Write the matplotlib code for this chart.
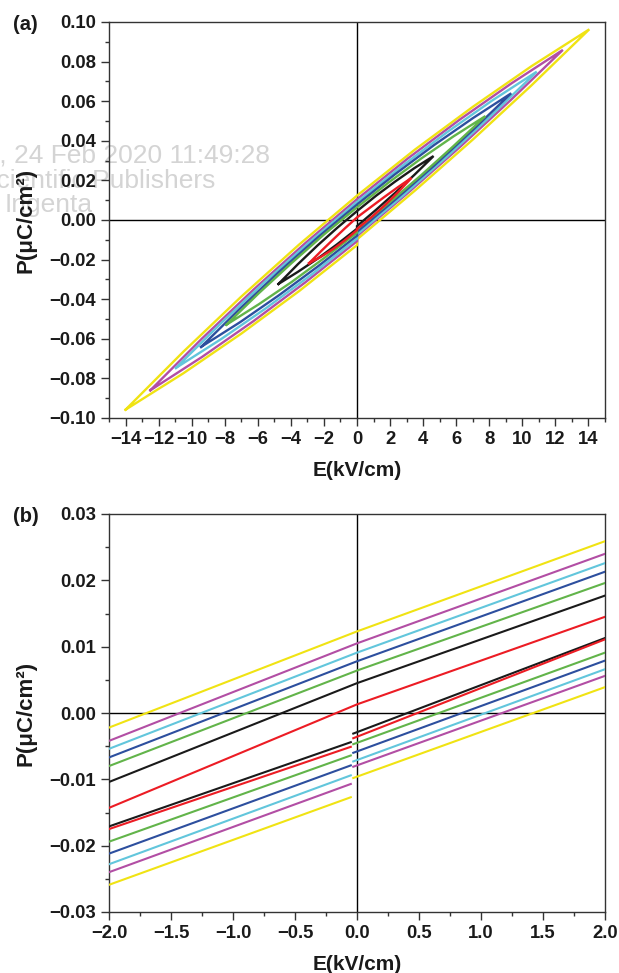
import matplotlib
matplotlib.use("Agg")
import numpy as np
import matplotlib.pyplot as plt
from matplotlib.ticker import MultipleLocator, FuncFormatter

plt.rcParams['font.family'] = ['Liberation Sans', 'DejaVu Sans']
plt.rcParams['font.weight'] = 'bold'

# loop colours, drawn outer first
names = ["red", "black", "green", "blue", "cyan", "magenta", "yellow"]
colors = ["#ec1c24", "#1a1a1a", "#62b44a", "#2d4f9e", "#62c6dc", "#b24ea4", "#f0e313"]

# ---- panel (a): full loops, E grid runs left tip -> 0 -> right tip
a_E = [
    [-2.9, -2.18, -1.45, -0.73, 0, 0.83, 1.65, 2.48, 3.3],
    [-4.75, -3.56, -2.38, -1.19, 0, 1.16, 2.32, 3.47, 4.63],
    [-7.9, -5.93, -3.95, -1.98, 0, 1.94, 3.89, 5.83, 7.77],
    [-9.43, -7.07, -4.72, -2.36, 0, 2.33, 4.67, 7.0, 9.33],
    [-10.95, -8.21, -5.48, -2.74, 0, 2.72, 5.44, 8.15, 10.87],
    [-12.5, -9.38, -6.25, -3.13, 0, 3.11, 6.23, 9.34, 12.45],
    [-14.0, -10.5, -7.0, -3.5, 0, 3.51, 7.03, 10.54, 14.05],
]
# upper branch
a_up = [
    [-0.0218, -0.0158, -0.0099, -0.0042, 0.0013, 0.0065, 0.0116, 0.0166, 0.0213],
    [-0.0323, -0.0222, -0.0128, -0.0039, 0.0045, 0.0123, 0.0195, 0.0262, 0.0323],
    [-0.0529, -0.0369, -0.0217, -0.0072, 0.0064, 0.0191, 0.0311, 0.0422, 0.0525],
    [-0.0641, -0.0447, -0.0262, -0.0087, 0.0078, 0.0233, 0.0379, 0.0514, 0.064],
    [-0.0747, -0.0520, -0.0305, -0.0102, 0.0091, 0.0272, 0.0443, 0.0602, 0.0749],
    [-0.086, -0.0599, -0.0351, -0.0117, 0.0105, 0.0313, 0.0508, 0.0690, 0.0859],
    [-0.0958, -0.0665, -0.0387, -0.0124, 0.0123, 0.0356, 0.0573, 0.0776, 0.0963],
]
# lower branch, left half (left tip -> 0)
a_lo_left = [
    [-0.0218, -0.0186, -0.0147, -0.0102, -0.0051],
    [-0.0323, -0.0261, -0.0195, -0.0122, -0.0044],
    [-0.0529, -0.0425, -0.0313, -0.0192, -0.0064],
    [-0.0641, -0.0516, -0.0380, -0.0234, -0.0079],
    [-0.0747, -0.0601, -0.0444, -0.0275, -0.0094],
    [-0.086, -0.0692, -0.0510, -0.0315, -0.0107],
    [-0.0958, -0.0774, -0.0574, -0.0359, -0.0127],
]
# lower branch, right half (0 -> right tip)
a_lo_right = [
    [-0.0045, 0.0011, 0.0072, 0.0140, 0.0213],
    [-0.0031, 0.0052, 0.0138, 0.0228, 0.0323],
    [-0.0047, 0.0087, 0.0227, 0.0373, 0.0525],
    [-0.0060, 0.0104, 0.0275, 0.0454, 0.064],
    [-0.0073, 0.0119, 0.0320, 0.0530, 0.0749],
    [-0.0081, 0.0139, 0.0369, 0.0609, 0.0859],
    [-0.0098, 0.0149, 0.0408, 0.0679, 0.0963],
]

# ---- panel (b): zoom near the origin
b_up_E = [-2.0, 0.0, 2.0]
b_up_P = [
    [-0.0143, 0.0013, 0.0145],
    [-0.0104, 0.0045, 0.0177],
    [-0.0080, 0.0064, 0.0196],
    [-0.0067, 0.0078, 0.0213],
    [-0.0054, 0.0091, 0.0226],
    [-0.0042, 0.0105, 0.0240],
    [-0.0022, 0.0123, 0.0259],
]
b_lo_left_E = [-2.0, -0.05]
b_lo_left_P = [
    [-0.0175, -0.0051],
    [-0.0171, -0.0044],
    [-0.0194, -0.0064],
    [-0.0212, -0.0079],
    [-0.0228, -0.0094],
    [-0.0240, -0.0107],
    [-0.0259, -0.0127],
]
b_lo_right_E = [-0.03, 2.0]
b_lo_right_P = [
    [-0.0038, 0.0111],
    [-0.0031, 0.0113],
    [-0.0047, 0.0091],
    [-0.0060, 0.0079],
    [-0.0073, 0.0066],
    [-0.0081, 0.0056],
    [-0.0098, 0.0039],
]

a_xticks = list(range(-14, 15, 2))


def fmt(decimals):
    def f(v, pos):
        s = f"{v:.{decimals}f}"
        if float(s) == 0:
            s = s.lstrip('-')
        return s.replace('-', '\u2212')
    return FuncFormatter(f)


def style(ax):
    ax.set_facecolor('none')
    for s in ax.spines.values():
        s.set_color('#333333')
        s.set_linewidth(1.0)
    ax.tick_params(which='both', direction='out', top=False, right=False,
                   color='#333333', width=1.0, labelsize=13.3, labelcolor='#1a1a1a')
    ax.tick_params(which='major', length=5.5, pad=4)
    ax.tick_params(which='minor', length=2.6)
    ax.axhline(0, color='black', lw=1.0, zorder=1)
    ax.axvline(0, color='black', lw=1.0, zorder=1)
    ax.set_xlabel('E(kV/cm)', fontsize=15, fontweight='bold', color='#1a1a1a')
    ax.set_ylabel('P(\u03bcC/cm\u00b2)', fontsize=16, fontweight='bold', color='#1a1a1a')


fig = plt.figure(figsize=(6.19, 9.73), dpi=100)
ax1 = fig.add_axes([109 / 619, 1 - 418 / 973, 496 / 619, 396 / 973])
ax2 = fig.add_axes([109 / 619, 1 - 912 / 973, 496 / 619, 398 / 973])

# panel (a)
for i in range(len(names) - 1, -1, -1):
    E = a_E[i]
    xs = E + E[8:3:-1] + E[4::-1]
    ys = a_up[i] + a_lo_right[i][::-1] + a_lo_left[i][::-1]
    ax1.plot(xs, ys, color=colors[i], lw=1.7, solid_joinstyle='miter', zorder=3)

style(ax1)
ax1.set_xlim(-15, 15)
ax1.set_ylim(-0.1, 0.1)
ax1.set_xticks(a_xticks)
ax1.xaxis.set_minor_locator(MultipleLocator(1))
ax1.xaxis.set_major_formatter(fmt(0))
ax1.yaxis.set_major_locator(MultipleLocator(0.02))
ax1.yaxis.set_minor_locator(MultipleLocator(0.01))
ax1.yaxis.set_major_formatter(fmt(2))

# panel (b)
for i in range(len(names) - 1, -1, -1):
    ax2.plot(b_up_E, b_up_P[i], color=colors[i], lw=1.5, zorder=3)
    ax2.plot(b_lo_left_E, b_lo_left_P[i], color=colors[i], lw=1.5, zorder=3)
    ax2.plot(b_lo_right_E, b_lo_right_P[i], color=colors[i], lw=1.5, zorder=3)

style(ax2)
ax2.set_xlim(-2, 2)
ax2.set_ylim(-0.03, 0.03)
ax2.xaxis.set_major_locator(MultipleLocator(0.5))
ax2.xaxis.set_minor_locator(MultipleLocator(0.25))
ax2.xaxis.set_major_formatter(fmt(1))
ax2.yaxis.set_major_locator(MultipleLocator(0.01))
ax2.yaxis.set_minor_locator(MultipleLocator(0.005))
ax2.yaxis.set_major_formatter(fmt(2))

for ax in (ax1, ax2):
    ax.xaxis.set_label_coords(0.5, -0.108)
    ax.yaxis.set_label_coords(-0.147, 0.5)

fig.text(13 / 619, 1 - 25 / 973, '(a)', fontsize=14.5, fontweight='bold', va='center', color='#1a1a1a')
fig.text(13 / 619, 1 - 517 / 973, '(b)', fontsize=14.5, fontweight='bold', va='center', color='#1a1a1a')

# faint download stamp behind the top panel
wm = dict(fontsize=19, fontweight='normal', color='#d4d4d4', va='baseline', ha='right', zorder=-1)
fig.text(270 / 619, 1 - 162 / 973, 'Mon, 24 Feb 2020 11:49:28', **wm)
fig.text(215 / 619, 1 - 188 / 973, 'Copyright: American Scientific Publishers', **wm)
fig.text(93 / 619, 1 - 212 / 973, 'Ingenta', **wm)

fig.savefig('out.png', dpi=100, facecolor='white')
